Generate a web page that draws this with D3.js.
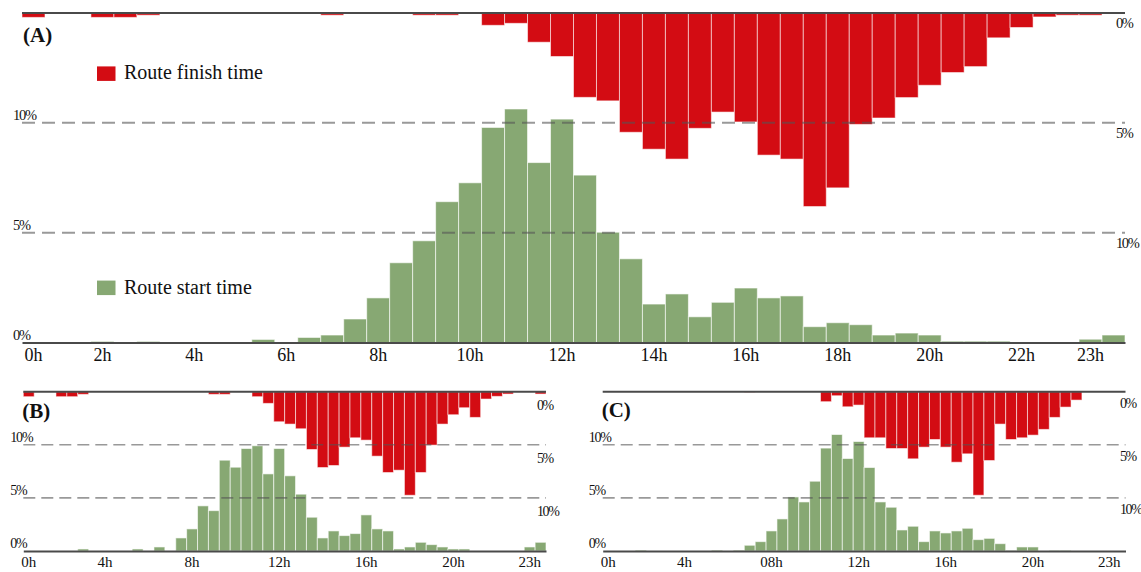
<!DOCTYPE html>
<html>
<head>
<meta charset="utf-8">
<script src="https://cdn.jsdelivr.net/npm/d3@7"></script>
<style>
  html, body { margin: 0; padding: 0; background: #fff; }
  svg { display: block; font-family: "Liberation Serif", "DejaVu Serif", serif; }
</style>
</head>
<body>
<div id="chart"></div>
<script>
// 48 half-hour bins, values in % of routes
const bins = d3.range(48);

const startA = [0, 0, 0, 0.05, 0, 0.05, 0, 0, 0, 0, 0.14, 0, 0.23, 0.34, 1.07, 2.03,
  3.63, 4.63, 6.41, 7.27, 9.79, 10.63, 8.19, 10.17, 7.62, 5.02, 3.81, 1.75, 2.21, 1.17, 1.83, 2.48,
  2.03, 2.12, 0.72, 0.90, 0.81, 0.34, 0.43, 0.34, 0.06, 0.06, 0.06, 0, 0, 0, 0.15, 0.34];
const finishA = [0.2, 0, 0, 0.2, 0.2, 0.1, 0, 0, 0, 0, 0, 0, 0, 0.1, 0, 0,
  0, 0.1, 0.1, 0, 0.56, 0.47, 1.33, 1.98, 3.84, 4.0, 5.43, 6.2, 6.65, 5.25, 4.51, 4.96,
  6.47, 6.65, 8.81, 7.96, 5.07, 4.78, 3.85, 3.29, 2.71, 2.44, 1.13, 0.66, 0.18, 0.1, 0.1, 0];

const startB = [0, 0, 0, 0, 0, 0.19, 0, 0, 0, 0, 0.19, 0, 0.38, 0, 1.23, 2.08,
  4.25, 3.8, 8.55, 7.89, 9.65, 9.91, 7.26, 9.65, 7.08, 5.35, 3.18, 1.23, 1.89, 1.45, 1.64, 3.4,
  2.08, 1.89, 0.19, 0.38, 0.82, 0.6, 0.38, 0.19, 0.19, 0, 0, 0, 0, 0, 0.38, 0.82];
const finishB = [0.47, 0, 0, 0.47, 0.47, 0.25, 0, 0, 0, 0, 0, 0, 0, 0, 0, 0,
  0, 0.25, 0.25, 0, 0, 0.47, 1.1, 2.83, 3.05, 3.49, 5.44, 7.14, 6.95, 5.22, 4.34, 4.56,
  6.07, 7.61, 7.39, 9.75, 7.61, 5.03, 3.05, 2.17, 1.51, 2.42, 0.69, 0.44, 0.22, 0, 0, 0.22];

const startC = [0, 0, 0, 0.08, 0, 0, 0, 0, 0, 0, 0.08, 0, 0.08, 0.54, 0.88, 1.89,
  3.02, 5.09, 4.62, 6.57, 9.69, 10.97, 8.71, 10.31, 7.86, 4.62, 4.12, 1.98, 2.33, 0.88, 1.89, 1.70,
  1.89, 2.14, 1.07, 1.19, 0.69, 0.05, 0.38, 0.38, 0, 0.05, 0.05, 0, 0, 0, 0, 0];
const finishC = [0, 0, 0, 0, 0, 0, 0, 0, 0, 0, 0, 0, 0, 0.05, 0, 0,
  0, 0, 0, 0, 0.94, 0.38, 1.42, 1.26, 4.34, 4.34, 5.35, 5.35, 6.32, 5.22, 4.5, 5.22,
  6.64, 5.85, 9.75, 6.48, 3.05, 4.5, 4.34, 4.09, 3.55, 2.42, 1.45, 0.79, 0, 0, 0, 0];

const tickBinsA = [0, 3, 7, 11, 15, 19, 23, 27, 31, 35, 39, 43, 46];
const tickLabelsA = ['0h', '2h', '4h', '6h', '8h', '10h', '12h', '14h', '16h', '18h', '20h', '22h', '23h'];
const tickBinsBC = [0, 7, 15, 23, 31, 39, 46];
const tickLabelsB = ['0h', '4h', '8h', '12h', '16h', '20h', '23h'];
const tickLabelsC = ['0h', '4h', '08h', '12h', '16h', '20h', '23h'];

const gridValues = [5, 10];
const pctValues = [0, 5, 10];
const seriesNames = ['Route finish time', 'Route start time'];

const RED = '#d30c13';
const GREEN = '#87a873';

const width = 1141, height = 572;
const svg = d3.select('#chart').append('svg')
  .attr('width', width)
  .attr('height', height);

function drawPanel(cfg) {
  const g = svg.append('g');
  const x = d3.scaleBand().domain(bins).range([cfg.left, cfg.right]);
  const yStart = d3.scaleLinear().domain([0, 15]).range([cfg.bottom, cfg.top]);
  const yFinish = d3.scaleLinear().domain([0, 15]).range([cfg.top, cfg.bottom]);

  // finish time hangs down from the top line
  g.append('g')
    .attr('fill', RED)
    .attr('stroke', '#fff')
    .attr('stroke-opacity', 0.55)
    .attr('stroke-width', 1)
    .selectAll('rect')
    .data(cfg.finish.map((v, i) => ({ v, i })).filter(d => d.v > 0))
    .join('rect')
    .attr('x', d => x(d.i))
    .attr('width', x.bandwidth())
    .attr('y', yFinish(0))
    .attr('height', d => yFinish(d.v) - yFinish(0));

  // start time grows up from the baseline
  g.append('g')
    .attr('fill', GREEN)
    .attr('stroke', '#fff')
    .attr('stroke-opacity', 0.6)
    .attr('stroke-width', 1)
    .selectAll('rect')
    .data(cfg.start.map((v, i) => ({ v, i })).filter(d => d.v > 0))
    .join('rect')
    .attr('x', d => x(d.i))
    .attr('width', x.bandwidth())
    .attr('y', d => yStart(d.v))
    .attr('height', d => yStart(0) - yStart(d.v));

  g.append('g')
    .attr('stroke', '#555')
    .attr('stroke-opacity', 0.6)
    .attr('stroke-width', cfg.dashWidth)
    .attr('stroke-dasharray', cfg.dash)
    .selectAll('line')
    .data(gridValues)
    .join('line')
    .attr('x1', cfg.left)
    .attr('x2', cfg.right)
    .attr('y1', d => yStart(d))
    .attr('y2', d => yStart(d));

  g.append('line')
    .attr('x1', cfg.left)
    .attr('x2', cfg.right)
    .attr('y1', yFinish(0))
    .attr('y2', yFinish(0))
    .attr('stroke', '#4a4a4a')
    .attr('stroke-width', 2);

  const axis = d3.axisBottom(x)
    .tickValues(cfg.tickBins)
    .tickFormat((d, i) => cfg.tickLabels[i])
    .tickSize(0)
    .tickSizeOuter(0)
    .tickPadding(cfg.tickPad);
  const ax = g.append('g')
    .attr('transform', `translate(0,${yStart(0)})`)
    .call(axis);
  ax.select('.domain')
    .attr('stroke', '#4a4a4a')
    .attr('stroke-width', 2);
  ax.selectAll('text')
    .attr('font-family', '"Liberation Serif", serif')
    .attr('font-size', cfg.tickFont)
    .attr('fill', '#111');

  // left: start time %, right: finish time %
  g.append('g')
    .selectAll('text')
    .data(pctValues)
    .join('text')
    .attr('x', cfg.left - cfg.leftPad)
    .attr('y', d => yStart(d) - 3)
    .attr('font-size', cfg.pctFont)
    .attr('letter-spacing', -1.2)
    .attr('fill', '#111')
    .text(d => d + '%');
  g.append('g')
    .selectAll('text')
    .data(pctValues)
    .join('text')
    .attr('x', cfg.right - cfg.rightPad)
    .attr('y', d => yFinish(d) + cfg.rightDy)
    .attr('font-size', cfg.pctFont)
    .attr('letter-spacing', -1.4)
    .attr('fill', '#111')
    .text(d => d + '%');

  g.append('text')
    .attr('x', cfg.left + cfg.titleDx)
    .attr('y', cfg.titleY)
    .attr('font-size', 21)
    .attr('font-weight', 'bold')
    .attr('fill', '#111')
    .text(cfg.title);

  if (cfg.legend) {
    const leg = g.append('g')
      .selectAll('g')
      .data(seriesNames)
      .join('g')
      .attr('transform', (d, i) => `translate(${cfg.left + 75},${i === 0 ? yFinish(2.75) : yStart(2.5)})`);
    leg.append('rect')
      .attr('y', -7)
      .attr('width', 18.5)
      .attr('height', 14.5)
      .attr('fill', (d, i) => i === 0 ? RED : GREEN);
    leg.append('text')
      .attr('x', 27)
      .attr('y', 6)
      .attr('font-size', 20)
      .attr('fill', '#111')
      .text(d => d);
  }
}

drawPanel({
  title: '(A)', start: startA, finish: finishA,
  left: 22, right: 1125, top: 13, bottom: 342.5,
  tickBins: tickBinsA, tickLabels: tickLabelsA, tickFont: 18, tickPad: 6,
  pctFont: 14.5, leftPad: 9, rightPad: 9, rightDy: 15,
  dash: '13,7', dashWidth: 2, titleDx: 1, titleY: 42, legend: true
});
drawPanel({
  title: '(B)', start: startB, finish: finishB,
  left: 23.3, right: 546, top: 391.7, bottom: 551,
  tickBins: tickBinsBC, tickLabels: tickLabelsB, tickFont: 15, tickPad: 5,
  pctFont: 14, leftPad: 13, rightPad: 9, rightDy: 18,
  dash: '12,6', dashWidth: 1.6, titleDx: -1, titleY: 418, legend: false
});
drawPanel({
  title: '(C)', start: startC, finish: finishC,
  left: 602.7, right: 1125.5, top: 391.7, bottom: 551,
  tickBins: tickBinsBC, tickLabels: tickLabelsC, tickFont: 15, tickPad: 5,
  pctFont: 14, leftPad: 14, rightPad: 5.5, rightDy: 16,
  dash: '12,6', dashWidth: 1.6, titleDx: -1, titleY: 417, legend: false
});
</script>
</body>
</html>
